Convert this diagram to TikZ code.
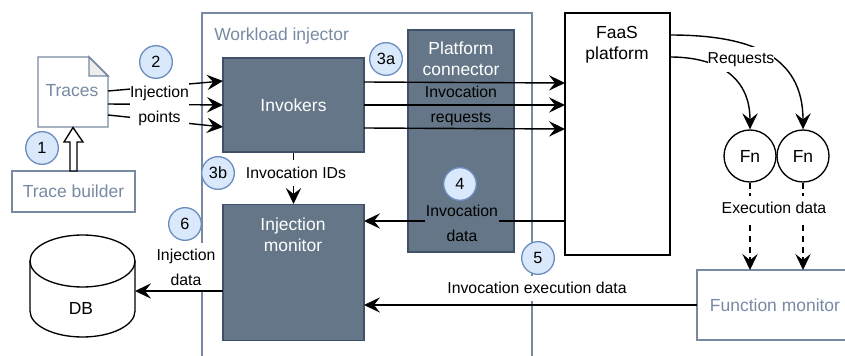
\documentclass[tikz,border=0pt]{standalone}
\usepackage{fontspec}
\setmainfont{Liberation Sans}
\usetikzlibrary{arrows.meta}
\definecolor{slate}{HTML}{647687}
\definecolor{slateline}{HTML}{3F5068}
\definecolor{pale}{HTML}{788AA3}
\definecolor{badgefill}{HTML}{DAE8FC}
\definecolor{badgeline}{HTML}{6C8EBF}
\tikzset{
  x=0.75pt,y=-0.75pt,
  big/.style={font=\fontsize{13.1}{15.75}\selectfont},
  small/.style={font=\fontsize{11.85}{18.75}\selectfont,inner sep=0pt,align=center},
  darkbox/.style={draw=slateline,line width=1.1pt,fill=slate,text=white,big,inner sep=0pt},
  palebox/.style={draw=pale,line width=1.1pt,fill=white,text=pale,big,inner sep=0pt},
  badge/.style={circle,draw=badgeline,fill=badgefill,line width=1pt,minimum size=24.5pt,inner sep=0pt,font=\fontsize{12.2}{14}\selectfont},
  fnnode/.style={circle,draw=black,line width=1pt,fill=white,minimum size=39pt,inner sep=0pt,big},
  conn/.style={draw=black,line width=1.05pt,-{Stealth[length=12pt,width=11.5pt,inset=4.5pt]}},
  dashconn/.style={conn,dash pattern=on 4.5pt off 3.5pt},
}
\begin{document}
\begin{tikzpicture}
\useasboundingbox (0,0) rectangle (845,356);
% workload injector frame (runs off the bottom)
\coordinate (wA) at (202,356);
\coordinate (wB) at (202,13);
\coordinate (wC) at (532,13);
\coordinate (wD) at (532,356);
\draw[pale,line width=1.1pt] (wA) -- (wB) -- (wC) -- (wD);
\node[text=pale,big,anchor=west,inner sep=0pt] (wl) at (214,36) {Workload injector};
% Traces document
\coordinate (ta) at (38,57);
\coordinate (tb) at (89,57);
\coordinate (tc) at (108,76);
\coordinate (td) at (108,127);
\coordinate (te) at (38,127);
\draw[pale,line width=1.1pt,fill=white] (ta) -- (tb) -- (tc) -- (td) -- (te) -- cycle;
\draw[pale,line width=1.1pt,fill=black!7] (tb) -- (tc) -- (89,76) -- cycle;
\node[text=pale,big,inner sep=0pt] (traces) at (72,91) {Traces};
\node[palebox,minimum width=92pt,minimum height=30.5pt] (builder) at (73.5,191.5) {Trace builder};
% dark boxes
\node[darkbox,minimum width=105.5pt,minimum height=70.5pt] (invokers) at (293.5,105) {Invokers};
\node[darkbox,minimum width=105.5pt,minimum height=102pt,anchor=north] (monitor) at (293.5,204) {};
\node[text=white,big,align=center,inner sep=0pt] (monlabel) at (293,234.5) {Injection\\monitor};
\node[darkbox,minimum width=79.5pt,minimum height=166.5pt] (connector) at (461,141) {};
\node[text=white,big,align=center,inner sep=0pt] (connlabel) at (461,58.5) {Platform\\connector};
% FaaS
\node[draw=black,line width=1.1pt,fill=white,minimum width=79pt,minimum height=181.5pt,inner sep=0pt] (faas) at (617.5,134) {};
\node[big,align=center,inner sep=0pt] (faaslabel) at (617,44.5) {FaaS\\platform};
% Fn
\node[fnnode] (fna) at (750,156) {Fn};
\node[fnnode] (fnb) at (803,156) {Fn};
% function monitor (runs off the right edge)
\node[palebox,minimum width=120pt,minimum height=52.5pt] (fmon) at (777,305) {};
\node[text=pale,big,inner sep=0pt] (fmonlabel) at (775,305) {Function monitor};
% DB
\draw[line width=1pt,fill=white] (30,261) .. controls (30,246.6) and (53.5,235) .. (82.5,235) .. controls (111.5,235) and (135,246.6) .. (135,261) -- (135,311) .. controls (135,325.4) and (111.5,337) .. (82.5,337) .. controls (53.5,337) and (30,325.4) .. (30,311) -- cycle;
\draw[line width=1pt] (30,261) .. controls (30,275.4) and (53.5,287) .. (82.5,287) .. controls (111.5,287) and (135,275.4) .. (135,261);
\node[big,inner sep=0pt] (db) at (81,308) {DB};
% hollow arrow
\draw[line width=1pt,fill=white] (70,171) -- (70,142) -- (64,142) -- (73,127.5) -- (83,142) -- (77,142) -- (77,171) -- cycle;
% connectors
\coordinate (t1) at (108,91); \coordinate (i1) at (223,81);
\coordinate (t2) at (108,104); \coordinate (i2) at (223,105);
\coordinate (t3) at (108,115); \coordinate (i3) at (223,127);
\draw[conn] (t1) -- (i1);
\draw[conn] (t2) -- (i2);
\draw[conn] (t3) -- (i3);
\node[small,fill=white,minimum width=44pt,minimum height=36pt] (injpts) at (159.5,105.5) {Injection\\points};
\coordinate (o1) at (364,82); \coordinate (f1) at (565,83);
\coordinate (o2) at (364,105); \coordinate (f2) at (565,105);
\coordinate (o3) at (364,128); \coordinate (f3) at (565,129);
\draw[conn] (o1) -- (f1);
\draw[conn] (o2) -- (f2);
\draw[conn] (o3) -- (f3);
\node[small] (invreq) at (461,105.5) {Invocation\\requests};
\draw[conn] (invokers.south) -- (monitor.north);
\node[small,fill=white,minimum height=18.75pt] (ids) at (296,173) {Invocation IDs};
\coordinate (f4) at (565,221); \coordinate (m4) at (364,221);
\draw[conn] (f4) -- (m4);
\node[small,fill=slate,minimum width=55pt,minimum height=36pt] (invdata) at (462,223.5) {Invocation\\data};
\coordinate (fm) at (697,305); \coordinate (m5) at (364,305);
\draw[conn] (fm) -- (m5);
\node[small,fill=white,minimum height=18.75pt] (ied) at (537,288) {Invocation execution data};
\node[small,fill=white,minimum width=44pt,minimum height=36pt] (injdata) at (186,267) {Injection\\data};
\coordinate (m6) at (223,291); \coordinate (db6) at (135,291);
\draw[conn] (m6) -- (db6);
\draw[conn] (670,35) .. controls (750,35) and (803,55) .. (fnb.north);
\draw[conn] (670,57) .. controls (715,57) and (750,75) .. (fna.north);
\node[small,fill=white,minimum height=18.75pt] (req) at (741,60) {Requests};
\draw[dashconn] (fna.south) -- (750,270);
\draw[dashconn] (fnb.south) -- (803,270);
\node[small,fill=white,minimum height=18.75pt] (exec) at (774,208) {Execution data};
% badges
\node[badge] (b1) at (42,148) {1};
\node[badge] (b2) at (156,62) {2};
\node[badge] (b3a) at (386,59) {3a};
\node[badge] (b3b) at (218,173) {3b};
\node[badge] (b4) at (460,184) {4};
\node[badge] (b5) at (538,258) {5};
\node[badge] (b6) at (185,224) {6};
\end{tikzpicture}
\end{document}
